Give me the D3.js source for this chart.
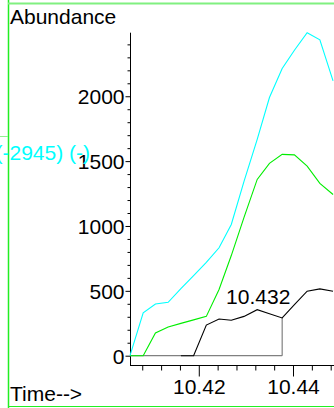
<!DOCTYPE html>
<html>
<head>
<meta charset="utf-8">
<script src="https://cdn.jsdelivr.net/npm/d3@7"></script>
<style>
  html, body { margin: 0; padding: 0; background: #fff; }
  svg { display: block; }
  text { font-family: "Liberation Sans", Arial, sans-serif; }
</style>
</head>
<body>
<script>
// ---- data ----
const times = [10.4054, 10.4082, 10.4108, 10.4135, 10.4162, 10.4189, 10.4216, 10.4243, 10.4269,
               10.4296, 10.4324, 10.4350, 10.4377, 10.4403, 10.4430, 10.4457, 10.4485];
const cyanValues  = [0, 330, 399, 412, 517, 618, 720, 832, 1012, 1344, 1668, 1990, 2214, 2355, 2490, 2435, 2118];
const greenValues = [0, 0, 175, 222, 249, 276, 303, 510, 772, 1066, 1359, 1483, 1552, 1548, 1462, 1328, 1243];
const blackValues = [null, null, null, null, 0, 0, 236, 283, 273, 303, 355, 324, 291, 394, 497, 515, 497];

const yMajorTicks = [0, 500, 1000, 1500, 2000];
const yTickLabels = ["0", "500", "1000", "1500", "2000"];
const yMinorTicks = [100,200,300,400,600,700,800,900,1100,1200,1300,1400,1600,1700,1800,1900,2100,2200,2300,2400];
const xMajorTicks = [10.42, 10.44];
const xTickLabels = ["10.42", "10.44"];
const xMinorTicks = [10.408, 10.412, 10.416, 10.424, 10.428, 10.432, 10.436, 10.444, 10.448];
const xDomain = [10.4054, 10.4487];

const peakTimes = [10.4324];
const peakLabels = ["10.432"];
const integStart = 10.4054;
const integEndIndex = 12;   // index in times where the integration ends

const yLabel = "Abundance";
const xLabel = "Time-->";
const sideText = "(-2945) (-)";

// ---- drawing ----
const W = 334, H = 408;
const svg = d3.select("body").append("svg").attr("width", W).attr("height", H);

const x = d3.scaleLinear().domain(xDomain).range([130, 334]);
const y = d3.scaleLinear().domain([0, d3.max(cyanValues)]).range([355.7, 32.7]);
const axisY = 365;
const fs = "21px";

// green frame
svg.append("line").attr("x1", 8.5).attr("x2", 8.5).attr("y1", 0).attr("y2", H)
  .attr("stroke", "#22ee22").attr("stroke-width", 1.5);
svg.append("line").attr("x1", 8).attr("x2", W).attr("y1", 3.5).attr("y2", 3.5)
  .attr("stroke", "#80f080").attr("stroke-width", 2);
svg.append("line").attr("x1", 0).attr("x2", 8).attr("y1", 136.5).attr("y2", 136.5)
  .attr("stroke", "#90f090").attr("stroke-width", 1);
svg.append("line").attr("x1", 8).attr("x2", W).attr("y1", 406.5).attr("y2", 406.5)
  .attr("stroke", "#22ee22").attr("stroke-width", 1.2);

// axes lines
svg.append("line").attr("x1", 130.5).attr("x2", 130.5).attr("y1", y.range()[1]).attr("y2", axisY)
  .attr("stroke", "#000").attr("stroke-width", 1);
svg.append("line").attr("x1", 130).attr("x2", W).attr("y1", axisY + 0.5).attr("y2", axisY + 0.5)
  .attr("stroke", "#000").attr("stroke-width", 1);

// y axis ticks
const yMinor = svg.append("g").attr("transform", "translate(130.5,0)")
  .call(d3.axisLeft(y).tickValues(yMinorTicks).tickSize(3).tickFormat(""));
const yMajor = svg.append("g").attr("transform", "translate(130.5,0)")
  .call(d3.axisLeft(y).tickValues(yMajorTicks).tickSize(5).tickPadding(1)
        .tickFormat((d, i) => yTickLabels[i]));
[yMinor, yMajor].forEach(g => { g.select(".domain").remove(); g.selectAll("line").attr("stroke", "#000"); });
yMajor.selectAll("text").attr("font-size", fs).attr("fill", "#000")
  .attr("font-family", "'Liberation Sans', Arial, sans-serif").attr("dy", "0.36em");

// x axis ticks
const xMinor = svg.append("g").attr("transform", `translate(0,${axisY + 0.5})`)
  .call(d3.axisBottom(x).tickValues(xMinorTicks).tickSize(5).tickFormat(""));
const xMajor = svg.append("g").attr("transform", `translate(0,${axisY + 0.5})`)
  .call(d3.axisBottom(x).tickValues(xMajorTicks).tickSize(11).tickPadding(3)
        .tickFormat((d, i) => xTickLabels[i]));
[xMinor, xMajor].forEach(g => { g.select(".domain").remove(); g.selectAll("line").attr("stroke", "#000"); });
xMajor.selectAll("text").attr("font-size", fs).attr("fill", "#000")
  .attr("font-family", "'Liberation Sans', Arial, sans-serif").attr("dy", "0.71em");

// integration baseline
const integEnd = times[integEndIndex];
svg.append("line").attr("x1", x(integStart)).attr("x2", x(integEnd))
  .attr("y1", y(0)).attr("y2", y(0)).attr("stroke", "#808080").attr("stroke-width", 1.2);
svg.append("line").attr("x1", x(integEnd)).attr("x2", x(integEnd))
  .attr("y1", y(0)).attr("y2", y(blackValues[integEndIndex])).attr("stroke", "#808080").attr("stroke-width", 1.2);

// traces
const mk = vals => d3.line().defined((d, i) => vals[i] !== null)
  .x((d, i) => x(times[i])).y((d, i) => y(vals[i]));
const series = [
  { vals: blackValues, color: "#000000" },
  { vals: greenValues, color: "#00ee00" },
  { vals: cyanValues, color: "#00ffff" }
];
series.forEach(s => {
  svg.append("path").attr("d", mk(s.vals)(times)).attr("fill", "none")
    .attr("stroke", s.color).attr("stroke-width", 1.1);
});

// peak label
peakTimes.forEach((t, i) => {
  const idx = times.indexOf(t);
  svg.append("text").attr("x", x(t) + 1).attr("y", y(blackValues[idx]) - 6)
    .attr("text-anchor", "middle").attr("font-size", fs).attr("fill", "#000").text(peakLabels[i]);
});

// texts
svg.append("text").attr("x", 10).attr("y", 24).attr("font-size", fs).attr("fill", "#000").text(yLabel);
svg.append("text").attr("x", 10).attr("y", 400.5).attr("font-size", fs).attr("fill", "#000").text(xLabel);
svg.append("text").attr("x", 90).attr("y", 160).attr("text-anchor", "end")
  .attr("font-size", fs).attr("fill", "#00ffff").text(sideText);
</script>
</body>
</html>
